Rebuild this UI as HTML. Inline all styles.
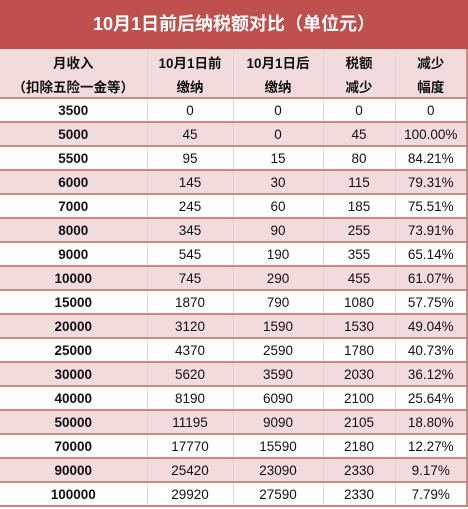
<!DOCTYPE html>
<html><head><meta charset="utf-8"><style>
body{margin:0;width:468px;height:509px;overflow:hidden;background:#fff;font-family:"Liberation Sans","Noto Sans CJK SC",sans-serif;}
#t{position:absolute;left:0;top:0;width:468px;height:49px;background:#c0504d;color:#fff;font-weight:bold;font-size:18px;text-align:center;line-height:49px;}
table{position:absolute;left:0;top:49px;border-collapse:collapse;width:467px;table-layout:fixed;border-right:2px solid #d08582;border-bottom:2px solid #d08582;}
td{height:22px;padding:0;text-align:center;font-size:13.5px;color:#111;border-left:1px solid #d8d8d8;border-bottom:2px solid #d08582;}
td:first-child{font-weight:bold;border-left:none;}
tr.h td{font-weight:bold;background:#f2dcdb;height:25px;border-bottom:none;vertical-align:middle;}
tr.h2 td{border-bottom:2px solid #d08582;height:23px;}
tr.p td{background:#f2dcdb;}
</style></head><body>
<div id="t">10月1日前后纳税额对比（单位元）</div>
<table>
<colgroup><col style="width:147px"><col style="width:86px"><col style="width:90px"><col style="width:72px"><col style="width:72px"></colgroup>
<tr class="h"><td>月收入</td><td>10月1日前</td><td>10月1日后</td><td>税额</td><td>减少</td></tr>
<tr class="h h2"><td>（扣除五险一金等）</td><td>缴纳</td><td>缴纳</td><td>减少</td><td>幅度</td></tr>
<tr><td>3500</td><td>0</td><td>0</td><td>0</td><td>0</td></tr>
<tr class="p"><td>5000</td><td>45</td><td>0</td><td>45</td><td>100.00%</td></tr>
<tr><td>5500</td><td>95</td><td>15</td><td>80</td><td>84.21%</td></tr>
<tr class="p"><td>6000</td><td>145</td><td>30</td><td>115</td><td>79.31%</td></tr>
<tr><td>7000</td><td>245</td><td>60</td><td>185</td><td>75.51%</td></tr>
<tr class="p"><td>8000</td><td>345</td><td>90</td><td>255</td><td>73.91%</td></tr>
<tr><td>9000</td><td>545</td><td>190</td><td>355</td><td>65.14%</td></tr>
<tr class="p"><td>10000</td><td>745</td><td>290</td><td>455</td><td>61.07%</td></tr>
<tr><td>15000</td><td>1870</td><td>790</td><td>1080</td><td>57.75%</td></tr>
<tr class="p"><td>20000</td><td>3120</td><td>1590</td><td>1530</td><td>49.04%</td></tr>
<tr><td>25000</td><td>4370</td><td>2590</td><td>1780</td><td>40.73%</td></tr>
<tr class="p"><td>30000</td><td>5620</td><td>3590</td><td>2030</td><td>36.12%</td></tr>
<tr><td>40000</td><td>8190</td><td>6090</td><td>2100</td><td>25.64%</td></tr>
<tr class="p"><td>50000</td><td>11195</td><td>9090</td><td>2105</td><td>18.80%</td></tr>
<tr><td>70000</td><td>17770</td><td>15590</td><td>2180</td><td>12.27%</td></tr>
<tr class="p"><td>90000</td><td>25420</td><td>23090</td><td>2330</td><td>9.17%</td></tr>
<tr><td>100000</td><td>29920</td><td>27590</td><td>2330</td><td>7.79%</td></tr>
</table>
</body></html>
